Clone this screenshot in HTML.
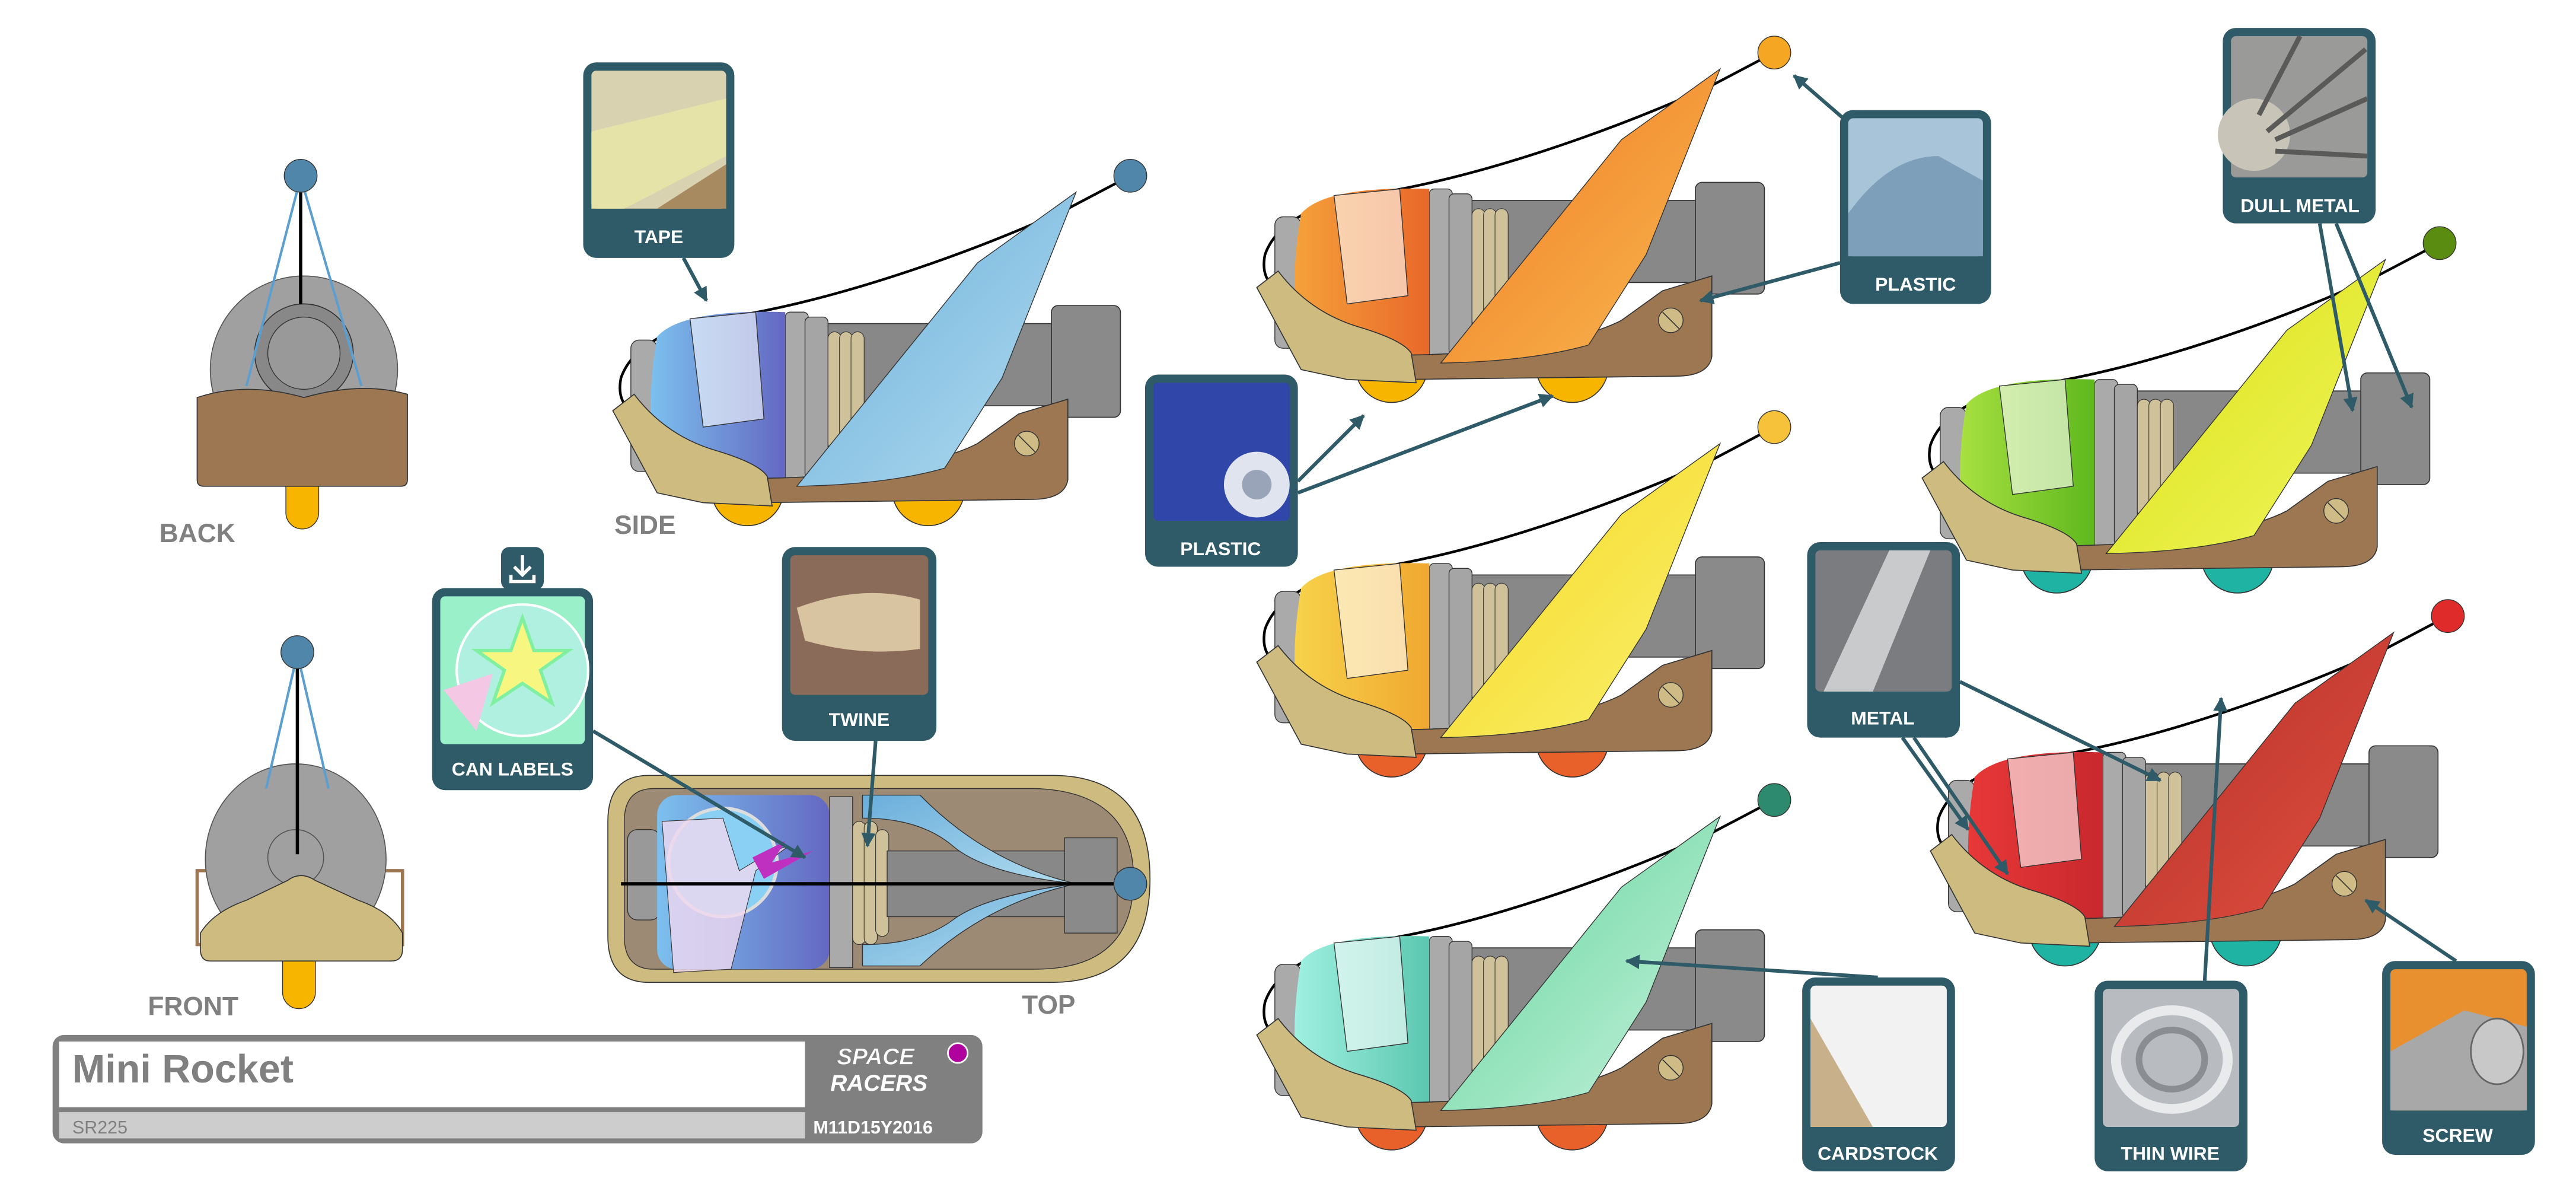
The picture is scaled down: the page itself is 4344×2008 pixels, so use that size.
<!DOCTYPE html>
<html><head><meta charset="utf-8"><style>
html,body{margin:0;padding:0;background:#fff;}
svg{display:block;}
.lbl{font-family:"Liberation Sans",sans-serif;font-weight:bold;fill:#fff;font-size:11.5px;text-anchor:middle;}
.vl{font-family:"Liberation Sans",sans-serif;font-weight:bold;fill:#808080;font-size:16px;}
</style></head><body>
<svg width="4344" height="2008" viewBox="0 0 1568 725" preserveAspectRatio="none" xmlns="http://www.w3.org/2000/svg">
<defs>
<linearGradient id="gBlue" x1="0" x2="1"><stop offset="0" stop-color="#7cc0ee"/><stop offset="1" stop-color="#6468c2"/></linearGradient>
<linearGradient id="fBlue" x1="0" y1="0" x2="1" y2="1"><stop offset="0" stop-color="#6aaedb"/><stop offset="1" stop-color="#b2dcef"/></linearGradient>
<linearGradient id="gOr" x1="0" x2="1"><stop offset="0" stop-color="#f5a13a"/><stop offset="1" stop-color="#e8682a"/></linearGradient>
<linearGradient id="fOr" x1="0" y1="0" x2="1" y2="1"><stop offset="0" stop-color="#f07a25"/><stop offset="1" stop-color="#f8b850"/></linearGradient>
<linearGradient id="gYe" x1="0" x2="1"><stop offset="0" stop-color="#f7d24a"/><stop offset="1" stop-color="#f0a830"/></linearGradient>
<linearGradient id="fYe" x1="0" y1="0" x2="1" y2="1"><stop offset="0" stop-color="#f5d820"/><stop offset="1" stop-color="#faf070"/></linearGradient>
<linearGradient id="gGr" x1="0" x2="1"><stop offset="0" stop-color="#9ff0e0"/><stop offset="1" stop-color="#5cc7b0"/></linearGradient>
<linearGradient id="fGr" x1="0" y1="0" x2="1" y2="1"><stop offset="0" stop-color="#5ed39a"/><stop offset="1" stop-color="#c8f2dd"/></linearGradient>
<linearGradient id="gLi" x1="0" x2="1"><stop offset="0" stop-color="#a8e040"/><stop offset="1" stop-color="#5eb81e"/></linearGradient>
<linearGradient id="fLi" x1="0" y1="0" x2="1" y2="1"><stop offset="0" stop-color="#d8e010"/><stop offset="1" stop-color="#f2f660"/></linearGradient>
<linearGradient id="gRe" x1="0" x2="1"><stop offset="0" stop-color="#e83838"/><stop offset="1" stop-color="#c8282e"/></linearGradient>
<linearGradient id="fRe" x1="0" y1="0" x2="1" y2="1"><stop offset="0" stop-color="#b52f28"/><stop offset="1" stop-color="#e05040"/></linearGradient>
<marker id="ah" viewBox="0 0 10 10" refX="9" refY="5" markerWidth="4" markerHeight="4" orient="auto"><path d="M0,0 L10,5 L0,10 z" fill="#2f5b68"/></marker>
<g id="rk">
  <circle cx="455" cy="298" r="22" style="fill:var(--wh)" stroke="#333" stroke-width=".6"/>
  <circle cx="455" cy="295" r="7" fill="#cfbb85" stroke="#333" stroke-width=".5"/>
  <circle cx="565" cy="298" r="22" style="fill:var(--wh)" stroke="#333" stroke-width=".6"/>
  <circle cx="565" cy="295" r="7" fill="#cfbb85" stroke="#333" stroke-width=".5"/>
  <path d="M688,107 L650,127 C600,150 520,180 450,192 C410,197 385,210 378,230 C375,245 383,252 392,250" fill="none" stroke="#000" stroke-width="1.6"/>
  <rect x="500" y="197" width="145" height="50" fill="#888" stroke="#333" stroke-width=".6"/>
  <rect x="640" y="186" width="42" height="68" rx="4" fill="#8a8a8a" stroke="#333" stroke-width=".6"/>
  <rect x="478" y="190" width="14" height="105" rx="3" fill="#aaa" stroke="#333" stroke-width=".5"/>
  <rect x="490" y="193" width="14" height="98" rx="3" fill="#a5a5a5" stroke="#333" stroke-width=".5"/>
  <rect x="504" y="202" width="8" height="72" rx="4" fill="#cfc19a" stroke="#333" stroke-width=".4"/>
  <rect x="511" y="202" width="8" height="72" rx="4" fill="#cfc19a" stroke="#333" stroke-width=".4"/>
  <rect x="518" y="202" width="8" height="72" rx="4" fill="#cfc19a" stroke="#333" stroke-width=".4"/>
  <rect x="384" y="207" width="16" height="80" rx="5" fill="#aaa" stroke="#333" stroke-width=".5"/>
  <path d="M400,205 Q415,188 478,190 L478,293 L400,290 Q392,250 400,205Z" style="fill:var(--can)"/>
  <path d="M420,194 L460,190 L465,255 L428,260Z" fill="#fff" fill-opacity=".6" stroke="#333" stroke-width=".5"/>
  <path d="M420,290 C480,294 560,288 595,270 L620,252 L650,243 L650,292 Q648,304 628,304 L460,306Z" fill="#9c7752" stroke="#333" stroke-width=".6"/>
  <circle cx="625" cy="270" r="7.5" fill="#cfbb85" stroke="#333" stroke-width=".5"/>
  <line x1="620" y1="265" x2="630" y2="275" stroke="#333" stroke-width=".6"/>
  <path d="M485,296 L595,160 L655,117 L610,230 L575,285 Q540,295 485,296Z" style="fill:var(--fin)" stroke="#333" stroke-width=".5"/>
  <path d="M373,250 L386,240 Q405,265 435,274 Q462,282 467,290 L470,308 L428,306 L400,300Z" fill="#cdbb80" stroke="#333" stroke-width=".6"/>
  <circle cx="688" cy="107" r="10" style="fill:var(--ball)" stroke="#333" stroke-width=".5"/>
</g>
</defs>

<!-- BACK -->
<circle cx="185" cy="225" r="57" fill="#a0a0a0" stroke="#555" stroke-width=".6"/>
<circle cx="185" cy="215" r="30" fill="#888" stroke="#333" stroke-width=".6"/>
<circle cx="185" cy="215" r="22" fill="#999" stroke="#333" stroke-width=".5"/>
<line x1="183" y1="108" x2="183" y2="185" stroke="#000" stroke-width="2"/>
<path d="M183,108 L150,235 M183,108 L220,235" stroke="#5a9fd0" stroke-width="1.5" fill="none"/>
<rect x="174" y="280" width="20" height="42" rx="10" fill="#f7b500" stroke="#333" stroke-width=".5"/>
<path d="M120,242 Q150,232 185,242 Q220,232 248,240 L248,292 Q248,296 244,296 L124,296 Q120,296 120,292Z" fill="#9c7752" stroke="#333" stroke-width=".6"/>
<circle cx="183" cy="107" r="10" fill="#4f86aa" stroke="#333" stroke-width=".5"/>
<text x="97" y="330" class="vl">BACK</text>

<!-- FRONT -->
<rect x="120" y="530" width="125" height="45" fill="none" stroke="#9c7752" stroke-width="2"/>
<ellipse cx="180" cy="523" rx="55" ry="58" fill="#a0a0a0" stroke="#555" stroke-width=".6"/>
<circle cx="180" cy="522" r="17" fill="none" stroke="#555" stroke-width=".6"/>
<line x1="181" y1="398" x2="181" y2="520" stroke="#000" stroke-width="2"/>
<path d="M181,398 L162,480 M181,398 L200,480" stroke="#5a9fd0" stroke-width="1.5" fill="none"/>
<rect x="172" y="570" width="20" height="44" rx="10" fill="#f7b500" stroke="#333" stroke-width=".5"/>
<path d="M122,568 Q130,555 150,548 L175,536 Q183,530 192,536 L218,548 Q238,555 245,568 L245,578 Q245,585 238,585 L128,585 Q122,585 122,578Z" fill="#cdbb80" stroke="#333" stroke-width=".6"/>
<circle cx="181" cy="397" r="10" fill="#4f86aa" stroke="#333" stroke-width=".5"/>
<text x="90" y="618" class="vl">FRONT</text>

<!-- SIDE -->
<use href="#rk" style="--can:url(#gBlue);--fin:url(#fBlue);--wh:#f7b500;--ball:#4f86aa"/>
<text x="374" y="325" class="vl">SIDE</text>

<!-- TOP -->
<path d="M395,472 L640,472 Q700,472 700,535 Q700,598 640,598 L395,598 Q370,598 370,570 L370,500 Q370,472 395,472Z" fill="#cdbb80" stroke="#333" stroke-width=".6"/>
<path d="M398,480 L630,480 Q690,482 690,535 Q690,590 630,590 L398,590 Q380,590 380,570 L380,500 Q380,480 398,480Z" fill="#9c8a74" stroke="#333" stroke-width=".5"/>
<rect x="382" y="505" width="20" height="55" rx="6" fill="#999" stroke="#333" stroke-width=".5"/>
<rect x="400" y="484" width="105" height="106" rx="12" fill="url(#gBlue)"/>
<circle cx="440" cy="525" r="33" fill="#8ad0f4" stroke="#ddd" stroke-width="2"/>
<path d="M403,500 L440,498 L450,530 L470,518 L480,515 L460,530 L445,590 L410,592Z" fill="#f0d8f0" fill-opacity=".8" stroke="#333" stroke-width=".4"/>
<path d="M458,522 L478,512 L470,525 L495,518 L465,535Z" fill="#c030c0"/>
<rect x="505" y="485" width="14" height="104" fill="#aaa" stroke="#333" stroke-width=".5"/>
<rect x="519" y="500" width="8" height="75" rx="4" fill="#cfc19a" stroke="#333" stroke-width=".4"/>
<rect x="526" y="500" width="8" height="75" rx="4" fill="#cfc19a" stroke="#333" stroke-width=".4"/>
<rect x="533" y="505" width="8" height="65" rx="4" fill="#cfc19a" stroke="#333" stroke-width=".4"/>
<rect x="540" y="518" width="110" height="40" fill="#888" stroke="#333" stroke-width=".5"/>
<rect x="648" y="510" width="32" height="58" fill="#8a8a8a" stroke="#333" stroke-width=".5"/>
<path d="M525,484 L560,484 Q600,525 655,538 Q600,532 580,515 Q560,498 525,498Z" fill="url(#fBlue)" stroke="#333" stroke-width=".5"/>
<path d="M525,588 L560,588 Q600,550 655,538 Q600,545 580,560 Q560,575 525,575Z" fill="url(#fBlue)" stroke="#333" stroke-width=".5"/>
<line x1="378" y1="538" x2="688" y2="538" stroke="#000" stroke-width="2"/>
<circle cx="688" cy="538" r="10" fill="#4f86aa" stroke="#333" stroke-width=".5"/>
<text x="622" y="617" class="vl">TOP</text>

<!-- other rockets -->
<use href="#rk" transform="translate(392,-75)" style="--can:url(#gOr);--fin:url(#fOr);--wh:#f7b500;--ball:#f5a623"/>
<use href="#rk" transform="translate(392,153)" style="--can:url(#gYe);--fin:url(#fYe);--wh:#e8602a;--ball:#f5c23a"/>
<use href="#rk" transform="translate(392,380)" style="--can:url(#gGr);--fin:url(#fGr);--wh:#e8602a;--ball:#2e8a6e"/>
<use href="#rk" transform="translate(797,41)" style="--can:url(#gLi);--fin:url(#fLi);--wh:#1fb3a3;--ball:#5b8c12"/>
<use href="#rk" transform="translate(802,268)" style="--can:url(#gRe);--fin:url(#fRe);--wh:#1fb3a3;--ball:#e02b2b"/>

<!-- arrows -->
<g stroke="#2f5b68" stroke-width="2.2" fill="none" marker-end="url(#ah)">
<line x1="416" y1="157" x2="430" y2="183"/>
<line x1="361" y1="445" x2="490" y2="522"/>
<line x1="533" y1="451" x2="528" y2="515"/>
<line x1="1120" y1="160" x2="1035" y2="183"/>
<line x1="1122" y1="72" x2="1092" y2="46"/>
<line x1="790" y1="293" x2="830" y2="253"/>
<line x1="790" y1="300" x2="945" y2="241"/>
<line x1="1412" y1="136" x2="1432" y2="250"/>
<line x1="1422" y1="136" x2="1468" y2="248"/>
<line x1="1158" y1="449" x2="1198" y2="505"/>
<line x1="1165" y1="449" x2="1222" y2="532"/>
<line x1="1193" y1="415" x2="1315" y2="475"/>
<line x1="1342" y1="597" x2="1352" y2="425"/>
<line x1="1495" y1="585" x2="1440" y2="548"/>
<line x1="1143" y1="595" x2="990" y2="585"/>
</g>

<!-- callouts -->
<g>
<rect x="355" y="38" width="92" height="119" rx="8" fill="#2f5b68"/>
<rect x="360" y="43" width="82" height="84" rx="3" fill="#d8d2b0"/>
<path d="M360,80 L442,60 L442,95 L380,127 L360,127Z" fill="#e6e3a8"/>
<path d="M400,127 L442,100 L442,127Z" fill="#a88a60"/>
<text x="401" y="148" class="lbl">TAPE</text>

<rect x="476" y="333" width="94" height="118" rx="8" fill="#2f5b68"/>
<rect x="481" y="338" width="84" height="85" rx="3" fill="#8a6a58"/>
<path d="M485,370 Q525,355 560,365 L560,395 Q525,400 490,390Z" fill="#d8c4a0"/>
<text x="523" y="442" class="lbl">TWINE</text>

<rect x="305" y="333" width="26" height="26" rx="5" fill="#2f5b68"/>
<path d="M318,338 L318,350 M313,345 L318,350 L323,345 M311,350 L311,354 L325,354 L325,350" stroke="#fff" stroke-width="2" fill="none"/>
<rect x="263" y="358" width="98" height="123" rx="8" fill="#2f5b68"/>
<rect x="268" y="363" width="88" height="90" rx="3" fill="#9af0c8"/>
<circle cx="318" cy="408" r="40" fill="#b0f0e0" stroke="#fff" stroke-width="1.5"/>
<path d="M270,420 L300,410 L290,445 Z" fill="#f4c8e4"/>
<path d="M318,376 L325,396 L346,396 L329,408 L336,428 L318,416 L300,428 L307,408 L290,396 L311,396Z" fill="#f6f680" stroke="#80f0a0" stroke-width="2"/>
<text x="312" y="472" class="lbl">CAN LABELS</text>

<rect x="1120" y="67" width="92" height="118" rx="8" fill="#2f5b68"/>
<rect x="1125" y="72" width="82" height="84" rx="3" fill="#a8c4d8"/>
<path d="M1125,130 Q1150,95 1180,95 L1207,110 L1207,156 L1125,156Z" fill="#7e9fba"/>
<text x="1166" y="177" class="lbl">PLASTIC</text>

<rect x="697" y="228" width="93" height="117" rx="8" fill="#2f5b68"/>
<rect x="702" y="233" width="83" height="84" rx="3" fill="#3046a8"/>
<circle cx="765" cy="295" r="20" fill="#dfe4ee"/>
<circle cx="765" cy="295" r="9" fill="#9aa4b8"/>
<text x="743" y="338" class="lbl">PLASTIC</text>

<rect x="1353" y="17" width="93" height="119" rx="8" fill="#2f5b68"/>
<rect x="1358" y="22" width="83" height="86" rx="3" fill="#9a9a98"/>
<circle cx="1372" cy="82" r="22" fill="#c8c4b8"/>
<path d="M1380,80 L1440,30 M1385,85 L1441,60 M1385,92 L1441,95 M1375,70 L1400,22" stroke="#5a5a58" stroke-width="3"/>
<text x="1400" y="129" class="lbl">DULL METAL</text>

<rect x="1100" y="330" width="93" height="119" rx="8" fill="#2f5b68"/>
<rect x="1105" y="335" width="83" height="86" rx="3" fill="#7a7c80"/>
<path d="M1110,421 L1150,335 L1175,335 L1140,421Z" fill="#c8cacc"/>
<text x="1146" y="441" class="lbl">METAL</text>

<rect x="1097" y="595" width="93" height="118" rx="8" fill="#2f5b68"/>
<rect x="1102" y="600" width="83" height="86" rx="3" fill="#f2f2f2"/>
<path d="M1102,620 L1140,686 L1102,686Z" fill="#c8b08a"/>
<text x="1143" y="706" class="lbl">CARDSTOCK</text>

<rect x="1275" y="597" width="93" height="116" rx="8" fill="#2f5b68"/>
<rect x="1280" y="602" width="83" height="84" rx="3" fill="#b8bcc0"/>
<ellipse cx="1322" cy="645" rx="34" ry="30" fill="none" stroke="#e8eaec" stroke-width="6"/>
<ellipse cx="1322" cy="645" rx="20" ry="18" fill="none" stroke="#8a8e92" stroke-width="4"/>
<text x="1321" y="706" class="lbl">THIN WIRE</text>

<rect x="1450" y="585" width="93" height="118" rx="8" fill="#2f5b68"/>
<rect x="1455" y="590" width="83" height="86" rx="3" fill="#e89030"/>
<path d="M1455,640 L1500,615 L1538,625 L1538,676 L1455,676Z" fill="#a8a8a8"/>
<ellipse cx="1520" cy="640" rx="16" ry="20" fill="#c8c8c8" stroke="#666"/>
<text x="1496" y="695" class="lbl">SCREW</text>
</g>

<!-- title block -->
<rect x="32" y="630" width="566" height="66" rx="7" fill="#808080"/>
<rect x="36" y="634" width="454" height="40" fill="#fff"/>
<rect x="36" y="677" width="454" height="16" fill="#cdcdcd"/>
<text x="44" y="659" font-family="Liberation Sans, sans-serif" font-weight="bold" font-size="24" fill="#808080">Mini Rocket</text>
<text x="44" y="690" font-family="Liberation Sans, sans-serif" font-size="11" fill="#808080">SR225</text>
<text x="533" y="648" text-anchor="middle" font-family="Liberation Sans, sans-serif" font-weight="bold" font-style="italic" font-size="14" fill="#fff" stroke="#808080" stroke-width=".3">SPACE</text>
<text x="535" y="664" text-anchor="middle" font-family="Liberation Sans, sans-serif" font-weight="bold" font-style="italic" font-size="14" fill="#fff">RACERS</text>
<circle cx="583" cy="641" r="6" fill="#b0009e" stroke="#fff" stroke-width="1"/>
<text x="495" y="690" font-family="Liberation Sans, sans-serif" font-weight="bold" font-size="11" fill="#fff">M11D15Y2016</text>
</svg>
</body></html>
